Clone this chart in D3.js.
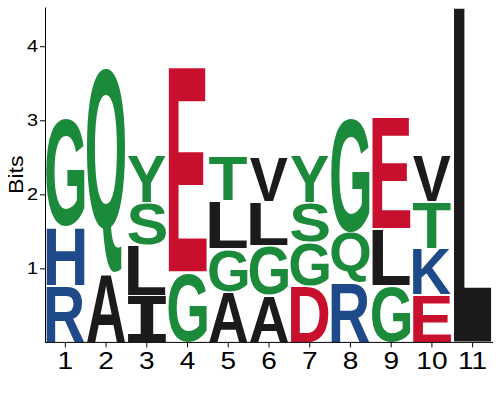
<!DOCTYPE html>
<html>
    <head>
        <title>Sequence logo</title>
        <script src="https://d3js.org/d3.v7.min.js"></script>
        <style>
            body { margin:0; font-family:"Liberation Sans", Arial, sans-serif; background:white; }
            svg { display:block; }
            .axis path, .axis line { stroke:#000; }
        </style>
    </head>
    <body>
        <svg width="500" height="400"></svg>
    </body>
    <script>
        // positions along the sequence
        const positions = ['1','2','3','4','5','6','7','8','9','10','11'];

        // letters in each column, bottom to top
        const stackLetters = [
            ['R','H','G'],
            ['A','Q'],
            ['I','L','S','Y'],
            ['G','E'],
            ['A','G','L','T'],
            ['A','G','L','V'],
            ['D','G','S','Y'],
            ['R','Q','G'],
            ['G','L','E'],
            ['E','K','T','V'],
            ['L']
        ];

        // height of each letter in bits, same order as stackLetters
        const stackBits = [
            [0.76, 0.80, 1.47],
            [0.94, 2.78],
            [0.63, 0.68, 0.57, 0.65],
            [0.95, 2.77],
            [0.68, 0.58, 0.65, 0.62],
            [0.64, 0.67, 0.59, 0.60],
            [0.76, 0.59, 0.54, 0.64],
            [0.80, 0.69, 1.55],
            [0.76, 0.77, 1.50],
            [0.64, 0.63, 0.63, 0.63],
            [4.53]
        ];

        const yTicks = [1, 2, 3, 4];

        // residue colour groups
        const greenLetters = ['G','S','T','Y','Q'];
        const blueLetters = ['H','R','K'];
        const redLetters = ['D','E'];
        const colorOf = ch => greenLetters.includes(ch) ? '#1b8a3b'
                            : blueLetters.includes(ch) ? '#1e4a8a'
                            : redLetters.includes(ch) ? '#c8102e'
                            : '#1c1a1c';

        const svg = d3.select('svg');
        const margin = { top:7, left:45, right:7, bottom:58 };
        const width = 500, height = 400;
        const baseY = height - margin.bottom + 0.4;
        const labelFont = '"Liberation Sans", Arial, sans-serif';

        const xScale = d3.scaleBand()
                        .domain(positions)
                        .range([margin.left, width - margin.right])
                        .paddingInner(0.06)
                        .paddingOuter(0.03);
        const yMax = d3.max(stackBits, col => d3.sum(col));
        const yScale = d3.scaleLinear()
                        .domain([0, yMax])
                        .range([baseY, margin.top]);

        // measure the ink box of a glyph so it can be stretched to fill a cell
        const ctx = document.createElement('canvas').getContext('2d');
        ctx.textBaseline = 'alphabetic';
        const fontFor = ch => ch === 'I' ? '"DejaVu Sans Mono"' : '"Liberation Sans"';
        function inkBox(ch) {
            ctx.font = `bold 100px ${fontFor(ch)}`;
            const m = ctx.measureText(ch);
            return {
                left: -m.actualBoundingBoxLeft,
                right: m.actualBoundingBoxRight,
                top: -m.actualBoundingBoxAscent,
                bottom: m.actualBoundingBoxDescent
            };
        }

        // flatten stacks into cells
        const cells = [];
        stackLetters.forEach((col, i) => {
            let acc = 0;
            col.forEach((ch, j) => {
                const b = stackBits[i][j];
                cells.push({ pos: positions[i], ch: ch, y0: acc, y1: acc + b });
                acc += b;
            });
        });

        const logo = svg.append('g');
        logo.selectAll('text')
            .data(cells)
            .enter()
            .append('text')
            .text(d => d.ch)
            .attr('font-family', d => fontFor(d.ch))
            .attr('font-weight', 'bold')
            .attr('font-size', 100)
            .attr('fill', d => colorOf(d.ch))
            .attr('transform', d => {
                const box = inkBox(d.ch);
                const pad = 0.8;
                const x0 = xScale(d.pos);
                const w = xScale.bandwidth();
                const top = yScale(d.y1) + pad;
                const h = yScale(d.y0) - yScale(d.y1) - 2 * pad;
                const sx = w / (box.right - box.left);
                const sy = h / (box.bottom - box.top);
                return `translate(${x0},${top}) scale(${sx},${sy}) translate(${-box.left},${-box.top})`;
            });

        // axes (labels are drawn a little wider than the font, as in the original)
        const xAxis = d3.axisBottom(xScale).tickSize(5).tickSizeOuter(0);
        svg.append('g')
            .attr('class', 'axis')
            .attr('transform', `translate(0,${baseY})`)
            .call(xAxis)
            .call(g => g.select('.domain').attr('d', `M${margin.left},0H${width - margin.right}`))
            .selectAll('text')
            .attr('font-size', 23)
            .attr('font-family', labelFont)
            .attr('fill', '#000')
            .attr('y', 27)
            .attr('dy', 0)
            .attr('transform', 'scale(1.22,1)');

        const yAxis = d3.axisLeft(yScale)
                        .tickValues(yTicks)
                        .tickFormat(d3.format('d'))
                        .tickSize(5)
                        .tickSizeOuter(0);
        svg.append('g')
            .attr('class', 'axis')
            .attr('transform', `translate(${margin.left},0)`)
            .call(yAxis)
            .selectAll('text')
            .attr('font-size', 16.5)
            .attr('font-family', labelFont)
            .attr('fill', '#000')
            .attr('x', -7 / 1.2)
            .attr('transform', 'scale(1.2,1)');

        svg.append('text')
            .attr('transform', `translate(22.5,${(margin.top + baseY) / 2}) rotate(-90) scale(1.1,1)`)
            .attr('text-anchor', 'middle')
            .attr('font-size', 21)
            .attr('font-family', labelFont)
            .attr('fill', '#000')
            .text('Bits');
    </script>
</html>
